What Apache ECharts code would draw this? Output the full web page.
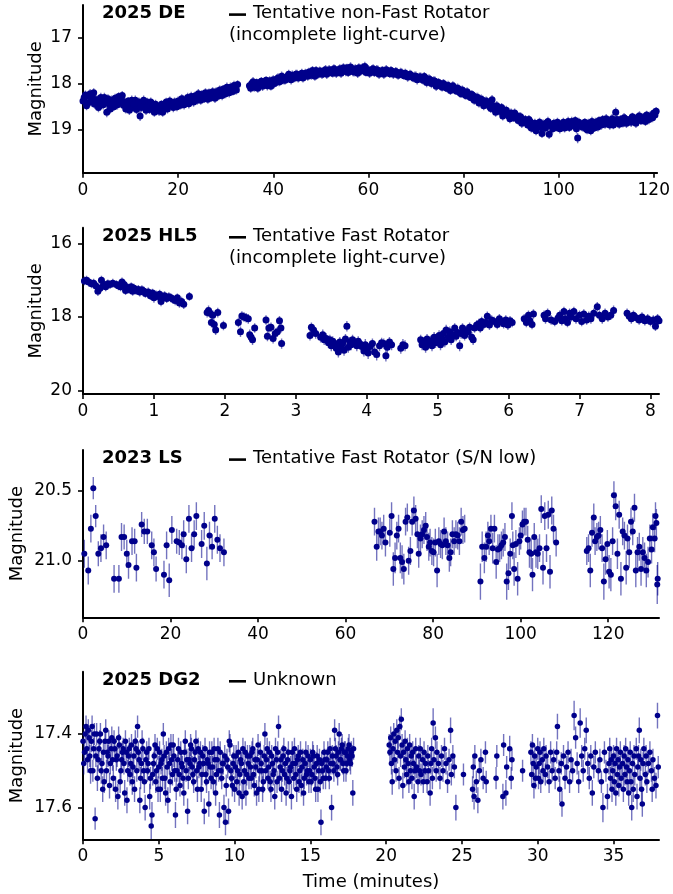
<!DOCTYPE html>
<html><head><meta charset="utf-8">
<script src="https://cdn.jsdelivr.net/npm/echarts@6/dist/echarts.min.js"></script>
<style>html,body{margin:0;padding:0;background:#fff}#c{width:673px;height:894px}</style>
</head><body><div id="c"></div>
<script>
// ---- DATA: [time (min), magnitude, error] ----
const lc2025DE = [
[0,18.38,.09],[0.5,18.25,.1],[1,18.42,.09],[1.5,18.22,.1],[2,18.30,.09],[2.5,18.45,.1],[3,18.35,.09],[3.5,18.48,.1],[4,18.38,.09],[4.5,18.30,.1],
[5,18.62,.11],[5.5,18.45,.09],[6,18.36,.1],[6.5,18.50,.09],[7,18.40,.1],[7.5,18.28,.09],[8,18.35,.1],[8.5,18.47,.09],[9,18.55,.1],[9.5,18.38,.09],
[10,18.44,.1],[10.5,18.52,.09],[11,18.36,.1],[11.5,18.48,.09],[12,18.70,.11],[12.5,18.42,.09],[13,18.50,.1],[13.5,18.40,.09],[14,18.56,.1],[14.5,18.44,.09],
[15,18.62,.1],[15.5,18.50,.09],[16,18.60,.1],[16.5,18.45,.09],[17,18.55,.1],[17.5,18.40,.09],[18,18.48,.1],[18.5,18.42,.09],[19,18.52,.1],[19.5,18.45,.09],
[20,18.38,.1],[20.5,18.47,.09],[21,18.35,.1],[21.5,18.42,.09],[22,18.30,.1],[22.5,18.40,.09],[23,18.33,.1],[23.5,18.27,.09],[24,18.36,.1],[24.5,18.30,.09],
[25,18.24,.1],[25.5,18.33,.09],[26,18.28,.1],[26.5,18.20,.09],[27,18.30,.1],[27.5,18.24,.09],[28,18.18,.1],[28.5,18.27,.09],[29,18.20,.1],[29.5,18.12,.09],
[30,18.22,.1],[30.5,18.15,.09],[31,18.08,.1],[31.5,18.17,.09],[32,18.10,.1],[32.5,18.02,.09],
[35,18.05,.1],[35.5,18.00,.09],[36,18.08,.1],[36.5,17.98,.09],[37,18.04,.1],[37.5,17.95,.09],[38,18.02,.1],[38.5,17.93,.09],[39,18.00,.1],[39.5,18.06,.09],
[40,17.92,.1],[40.5,17.98,.09],[41,17.88,.1],[41.5,17.95,.09],[42,17.86,.1],[42.5,17.93,.09],[43,17.84,.1],[43.5,17.90,.09],[44,17.82,.1],[44.5,17.88,.09],
[45,17.80,.1],[45.5,17.86,.09],[46,17.78,.1],[46.5,17.84,.09],[47,17.80,.1],[47.5,17.75,.09],[48,17.82,.1],[48.5,17.76,.09],[49,17.72,.1],[49.5,17.80,.09],
[50,17.74,.1],[50.5,17.79,.09],[51,17.70,.1],[51.5,17.76,.09],[52,17.72,.1],[52.5,17.78,.09],[53,17.70,.1],[53.5,17.75,.09],[54,17.68,.1],[54.5,17.74,.09],
[55,17.70,.1],[55.5,17.66,.09],[56,17.72,.1],[56.5,17.68,.09],[57,17.75,.1],[57.5,17.70,.09],[58,17.66,.1],[58.5,17.73,.09],[59,17.69,.1],[59.5,17.76,.09],
[60,17.70,.1],[60.5,17.74,.09],[61,17.68,.1],[61.5,17.75,.09],[62,17.71,.1],[62.5,17.77,.09],[63,17.72,.1],[63.5,17.76,.09],[64,17.73,.1],[64.5,17.79,.09],
[65,17.74,.1],[65.5,17.78,.09],[66,17.76,.1],[66.5,17.80,.09],[67,17.77,.1],[67.5,17.83,.09],[68,17.80,.1],[68.5,17.85,.09],[69,17.82,.1],[69.5,17.88,.09],
[70,17.84,.1],[70.5,17.90,.09],[71,17.86,.1],[71.5,17.93,.09],[72,17.88,.1],[72.5,17.95,.09],[73,17.92,.1],[73.5,17.98,.09],[74,17.95,.1],[74.5,18.04,.09],
[75,18.00,.1],[75.5,18.08,.09],[76,18.02,.1],[76.5,18.10,.09],[77,18.06,.1],[77.5,18.12,.09],[78,18.08,.1],[78.5,18.16,.09],[79,18.12,.1],[79.5,18.22,.09],
[80,18.18,.1],[80.5,18.26,.09],[81,18.22,.1],[81.5,18.30,.09],[82,18.26,.1],[82.5,18.35,.09],[83,18.30,.1],[83.5,18.40,.09],[84,18.36,.1],[84.5,18.45,.09],
[85,18.40,.1],[85.5,18.50,.09],[86,18.35,.1],[86.5,18.55,.09],[87,18.48,.1],[87.5,18.60,.09],[88,18.52,.1],[88.5,18.65,.09],[89,18.58,.1],[89.5,18.70,.09],
[90,18.64,.1],[90.5,18.74,.09],[91,18.68,.1],[91.5,18.80,.09],[92,18.72,.1],[92.5,18.84,.09],[93,18.78,.1],[93.5,18.90,.09],[94,18.82,.1],[94.5,18.96,.09],
[95,18.86,.1],[95.5,18.92,.09],[96,18.84,.1],[96.5,19.08,.1],[97,18.90,.1],[97.5,18.85,.09],[98,19.10,.1],[98.5,18.92,.09],[99,18.86,.1],[99.5,18.95,.09],
[100,18.88,.1],[100.5,18.96,.09],[101,18.84,.1],[101.5,18.92,.09],[102,18.82,.1],[102.5,18.90,.09],[103,18.86,.1],[103.5,18.80,.09],[104,19.18,.11],[104.5,18.88,.09],
[105,18.94,.1],[105.5,18.84,.09],[106,19.00,.1],[106.5,18.90,.09],[107,18.82,.1],[107.5,18.96,.09],[108,18.86,.1],[108.5,18.80,.09],[109,18.90,.1],[109.5,18.82,.09],
[110,18.76,.1],[110.5,18.86,.09],[111,18.80,.1],[111.5,18.90,.09],[112,18.62,.1],[112.5,18.84,.09],[113,18.78,.1],[113.5,18.86,.09],[114,18.76,.1],[114.5,18.84,.09],
[115,18.78,.1],[115.5,18.72,.09],[116,18.82,.1],[116.5,18.76,.09],[117,18.70,.1],[117.5,18.80,.09],[118,18.74,.1],[118.5,18.68,.09],[119,18.78,.1],[119.5,18.70,.09],
[120,18.64,.1],[120.5,18.60,.09],
[0.25,18.30,.1],[0.75,18.48,.1],[1.25,18.28,.1],[1.75,18.40,.1],[2.25,18.20,.1],[2.75,18.36,.1],[3.25,18.52,.1],[3.75,18.30,.1],[4.25,18.46,.1],[4.75,18.40,.1],
[5.25,18.33,.1],[5.75,18.55,.1],[6.25,18.44,.1],[6.75,18.32,.1],[7.25,18.46,.1],[7.75,18.38,.1],[8.25,18.26,.1],[8.75,18.40,.1],[9.25,18.48,.1],[9.75,18.58,.1],
[10.25,18.36,.1],[10.75,18.45,.1],[11.25,18.56,.1],[11.75,18.40,.1],[12.25,18.52,.1],[12.75,18.36,.1],[13.25,18.58,.1],[13.75,18.46,.1],[14.25,18.40,.1],[14.75,18.52,.1],
[15.25,18.45,.1],[15.75,18.56,.1],[16.25,18.52,.1],[16.75,18.62,.1],[17.25,18.48,.1],[17.75,18.55,.1],[18.25,18.38,.1],[18.75,18.47,.1],[19.25,18.40,.1],[19.75,18.50,.1],
[20.25,18.44,.1],[20.75,18.33,.1],[21.25,18.46,.1],[21.75,18.38,.1],[22.25,18.44,.1],[22.75,18.28,.1],[23.25,18.40,.1],[23.75,18.34,.1],[24.25,18.22,.1],[24.75,18.36,.1],
[25.25,18.30,.1],[25.75,18.20,.1],[26.25,18.34,.1],[26.75,18.27,.1],[27.25,18.18,.1],[27.75,18.32,.1],[28.25,18.22,.1],[28.75,18.14,.1],[29.25,18.26,.1],[29.75,18.18,.1],
[30.25,18.08,.1],[30.75,18.20,.1],[31.25,18.13,.1],[31.75,18.04,.1],[32.25,18.14,.1],[35.25,18.10,.1],[35.75,17.96,.1],[36.25,18.04,.1],[36.75,18.10,.1],[37.25,17.98,.1],
[37.75,18.06,.1],[38.25,17.97,.1],[38.75,18.05,.1],[39.25,17.94,.1],[39.75,17.98,.1],[40.25,18.00,.1],[40.75,17.90,.1],[41.25,17.96,.1],[41.75,17.84,.1],[42.25,17.92,.1],
[42.75,17.88,.1],[43.25,17.80,.1],[43.75,17.92,.1],[44.25,17.86,.1],[44.75,17.80,.1],[45.25,17.88,.1],[45.75,17.82,.1],[46.25,17.88,.1],[46.75,17.78,.1],[47.25,17.84,.1],
[47.75,17.80,.1],[48.25,17.72,.1],[48.75,17.84,.1],[49.25,17.78,.1],[49.75,17.73,.1],[50.25,17.80,.1],[50.75,17.72,.1],[51.25,17.80,.1],[51.75,17.70,.1],[52.25,17.76,.1],
[52.75,17.68,.1],[53.25,17.78,.1],[53.75,17.72,.1],[54.25,17.78,.1],[54.75,17.66,.1],[55.25,17.74,.1],[55.75,17.76,.1],[56.25,17.64,.1],[56.75,17.74,.1],[57.25,17.68,.1],
[57.75,17.78,.1],[58.25,17.72,.1],[58.75,17.66,.1],[59.25,17.63,.1],[59.75,17.72,.1],[60.25,17.78,.1],[60.75,17.70,.1],[61.25,17.76,.1],[61.75,17.70,.1],[62.25,17.80,.1],
[62.75,17.73,.1],[63.25,17.80,.1],[63.75,17.70,.1],[64.25,17.76,.1],[64.75,17.72,.1],[65.25,17.80,.1],[65.75,17.74,.1],[66.25,17.82,.1],[66.75,17.76,.1],[67.25,17.80,.1],
[67.75,17.78,.1],[68.25,17.86,.1],[68.75,17.80,.1],[69.25,17.86,.1],[69.75,17.84,.1],[70.25,17.92,.1],[70.75,17.86,.1],[71.25,17.90,.1],[71.75,17.85,.1],[72.25,17.98,.1],
[72.75,17.90,.1],[73.25,18.00,.1],[73.75,17.94,.1],[74.25,18.06,.1],[74.75,17.98,.1],[75.25,18.04,.1],[75.75,18.00,.1],[76.25,18.08,.1],[76.75,18.04,.1],[77.25,18.15,.1],
[77.75,18.05,.1],[78.25,18.14,.1],[78.75,18.10,.1],[79.25,18.20,.1],[79.75,18.14,.1],[80.25,18.24,.1],[80.75,18.18,.1],[81.25,18.28,.1],[81.75,18.24,.1],[82.25,18.36,.1],
[82.75,18.30,.1],[83.25,18.42,.1],[83.75,18.34,.1],[84.25,18.48,.1],[84.75,18.38,.1],[85.25,18.45,.1],[85.75,18.54,.1],[86.25,18.48,.1],[86.75,18.62,.1],[87.25,18.52,.1],
[87.75,18.58,.1],[88.25,18.70,.1],[88.75,18.60,.1],[89.25,18.66,.1],[89.75,18.76,.1],[90.25,18.70,.1],[90.75,18.64,.1],[91.25,18.76,.1],[91.75,18.72,.1],[92.25,18.86,.1],
[92.75,18.80,.1],[93.25,18.85,.1],[93.75,18.78,.1],[94.25,18.96,.1],[94.75,18.90,.1],[95.25,19.02,.1],[95.75,18.86,.1],[96.25,18.95,.1],[96.75,18.88,.1],[97.25,18.96,.1],
[97.75,18.82,.1],[98.25,18.88,.1],[98.75,18.98,.1],[99.25,18.90,.1],[99.75,18.84,.1],[100.25,18.98,.1],[100.75,18.90,.1],[101.25,18.96,.1],[101.75,18.86,.1],[102.25,18.95,.1],
[102.75,18.82,.1],[103.25,18.92,.1],[103.75,18.98,.1],[104.25,18.84,.1],[104.75,18.92,.1],[105.25,18.88,.1],[105.75,18.98,.1],[106.25,18.86,.1],[106.75,19.02,.1],[107.25,18.90,.1],
[107.75,18.84,.1],[108.25,18.94,.1],[108.75,18.86,.1],[109.25,18.78,.1],[109.75,18.88,.1],[110.25,18.82,.1],[110.75,18.90,.1],[111.25,18.76,.1],[111.75,18.84,.1],[112.25,18.78,.1],
[112.75,18.88,.1],[113.25,18.82,.1],[113.75,18.74,.1],[114.25,18.86,.1],[114.75,18.80,.1],[115.25,18.84,.1],[115.75,18.76,.1],[116.25,18.86,.1],[116.75,18.72,.1],[117.25,18.80,.1],
[117.75,18.74,.1],[118.25,18.82,.1],[118.75,18.76,.1],[119.25,18.70,.1],[119.75,18.74,.1],[120.25,18.68,.1]
];
const lc2025HL5 = [
[0.02,17.02,.12],[0.05,17.00,.12],[0.08,17.05,.12],[0.12,17.10,.12],[0.15,17.08,.12],[0.18,17.15,.12],[0.21,17.30,.13],[0.24,17.22,.12],[0.26,17.00,.12],[0.29,17.12,.12],
[0.32,17.18,.12],[0.35,17.10,.12],[0.38,17.12,.12],[0.42,17.08,.12],[0.47,17.12,.12],[0.50,17.15,.12],[0.53,17.18,.12],[0.55,17.05,.12],[0.58,17.12,.12],[0.60,17.28,.12],
[0.63,17.20,.12],[0.65,17.25,.12],[0.68,17.18,.12],[0.70,17.30,.12],[0.72,17.22,.12],[0.75,17.28,.12],[0.78,17.25,.12],[0.80,17.32,.12],[0.83,17.26,.12],[0.86,17.30,.12],
[0.88,17.36,.12],[0.92,17.32,.12],[0.95,17.42,.12],[0.98,17.35,.12],[1.00,17.48,.13],[1.03,17.40,.12],[1.06,17.44,.12],[1.08,17.38,.12],[1.10,17.58,.13],[1.12,17.46,.12],
[1.15,17.42,.12],[1.18,17.50,.12],[1.21,17.45,.12],[1.24,17.48,.12],[1.27,17.52,.12],[1.30,17.55,.13],[1.33,17.48,.12],[1.36,17.62,.13],[1.39,17.58,.13],[1.42,17.65,.13],
[1.50,17.44,.12],
[1.75,17.88,.13],[1.77,17.82,.13],[1.79,17.90,.13],[1.81,18.15,.13],[1.83,17.95,.13],[1.85,18.20,.13],[1.87,18.35,.14],[1.90,17.88,.13],[1.98,18.23,.13],
[2.19,18.15,.13],[2.22,18.40,.14],[2.24,17.97,.13],[2.27,18.00,.13],[2.30,18.02,.13],[2.33,18.05,.13],[2.35,18.48,.14],[2.37,18.55,.14],[2.39,18.62,.14],[2.42,18.30,.13],
[2.58,18.08,.13],[2.60,18.52,.14],[2.62,18.30,.13],[2.65,18.28,.13],[2.68,18.58,.14],[2.71,18.45,.14],[2.74,18.40,.13],[2.77,18.10,.13],[2.79,18.30,.13],[2.80,18.72,.14],
[3.20,18.50,.14],[3.22,18.28,.13],[3.25,18.35,.14],[3.28,18.45,.14],[3.35,18.55,.14],[3.38,18.48,.14],[3.40,18.62,.14],[3.43,18.58,.14],[3.46,18.70,.14],[3.48,18.62,.14],
[3.50,18.78,.15],[3.52,18.66,.14],[3.55,18.72,.14],[3.57,18.85,.15],[3.60,18.95,.15],[3.62,18.68,.14],[3.64,18.80,.15],[3.66,18.72,.14],[3.68,18.90,.15],[3.70,18.60,.14],
[3.72,18.25,.14],[3.74,18.82,.15],[3.76,18.68,.14],[3.78,18.75,.15],[3.80,18.62,.14],[3.83,18.70,.14],[3.86,18.78,.15],[3.88,18.66,.14],[3.90,18.72,.14],[3.93,18.80,.15],
[3.96,18.92,.15],[3.98,18.75,.15],[4.00,18.85,.15],[4.02,18.98,.16],[4.05,18.80,.15],[4.08,18.72,.14],[4.11,18.95,.15],[4.14,19.02,.16],[4.18,18.78,.15],[4.21,18.70,.14],
[4.24,18.72,.14],[4.27,19.05,.16],[4.29,18.82,.15],[4.32,18.68,.14],[4.35,18.75,.15],[4.48,18.85,.15],[4.51,18.75,.15],[4.54,18.78,.15],
[4.76,18.62,.14],[4.78,18.75,.15],[4.80,18.68,.14],[4.83,18.82,.15],[4.85,18.60,.14],[4.87,18.72,.14],[4.90,18.65,.14],[4.92,18.78,.15],[4.95,18.55,.14],[4.97,18.70,.14],
[5.00,18.62,.14],[5.02,18.50,.14],[5.04,18.75,.15],[5.06,18.58,.14],[5.08,18.45,.14],[5.10,18.68,.14],[5.12,18.35,.14],[5.15,18.55,.14],[5.17,18.40,.14],[5.19,18.62,.14],
[5.22,18.48,.14],[5.24,18.30,.13],[5.26,18.52,.14],[5.28,18.42,.14],[5.31,18.78,.15],[5.33,18.45,.14],[5.35,18.30,.13],[5.38,18.50,.14],[5.40,18.38,.14],[5.43,18.40,.14],
[5.45,18.28,.13],[5.48,18.55,.14],[5.50,18.62,.14],[5.52,18.30,.13],[5.55,18.22,.13],[5.58,18.18,.13],[5.60,18.30,.13],[5.62,18.12,.13],[5.65,18.20,.13],[5.68,18.15,.13],
[5.70,17.98,.13],[5.73,18.22,.13],[5.76,18.08,.13],[5.80,18.12,.13],[5.84,18.20,.13],[5.87,18.05,.13],[5.90,18.12,.13],[5.93,18.18,.13],[5.96,18.08,.13],[5.99,18.22,.13],
[6.02,18.10,.13],[6.05,18.15,.13],
[6.22,18.05,.13],[6.25,18.15,.13],[6.28,17.95,.13],[6.30,18.10,.13],[6.33,18.20,.13],[6.35,17.92,.13],[6.50,17.95,.13],[6.52,18.05,.13],[6.55,17.90,.13],[6.60,18.08,.13],
[6.65,18.12,.13],[6.70,18.02,.13],[6.72,17.95,.13],[6.75,18.10,.13],[6.78,17.85,.13],[6.80,18.05,.13],[6.83,18.15,.13],[6.86,17.90,.13],[6.88,18.00,.13],[6.92,17.85,.13],
[6.95,18.05,.13],[7.00,17.95,.13],[7.03,18.12,.13],[7.06,17.92,.13],[7.10,18.08,.13],[7.13,17.98,.13],[7.16,18.05,.13],[7.20,17.90,.13],[7.25,17.72,.13],[7.28,17.95,.13],
[7.32,18.05,.13],[7.36,17.90,.13],[7.40,18.00,.13],[7.44,17.95,.13],[7.48,17.82,.13],[7.67,17.90,.13],[7.70,17.98,.13],[7.73,18.05,.13],[7.76,17.95,.13],[7.80,18.02,.13],
[7.84,18.08,.13],[7.88,18.00,.13],[7.92,18.10,.13],[7.96,18.05,.13],[8.00,18.12,.13],[8.04,18.08,.13],[8.07,18.25,.13],[8.10,18.05,.13],[8.12,18.10,.13]
];
const lc2023LS = [
[0.3,20.95,.1],[1.2,21.07,.1],[1.8,20.77,.1],[2.35,20.48,.08],[2.9,20.68,.08],[3.5,20.95,.09],[4.1,20.91,.1],[4.7,20.83,.09],[5.3,20.89,.1],[7.1,21.13,.1],
[8.2,21.13,.1],[8.8,20.83,.1],[9.4,20.83,.09],[10.0,20.95,.1],[10.4,21.03,.1],[11.2,20.86,.1],[11.8,20.86,.09],[12.2,21.05,.1],[13.4,20.74,.09],[14.0,20.79,.09],
[14.7,20.79,.09],[15.7,20.89,.1],[16.2,20.94,.1],[16.7,21.06,.09],[18.5,21.1,.1],[19.1,20.89,.1],[19.7,21.14,.12],[20.3,20.78,.1],[21.4,20.86,.09],[22.0,20.87,.09],
[22.6,20.89,.1],[23.0,20.81,.1],[23.6,20.99,.1],[24.2,20.7,.1],[24.8,20.91,.1],[25.4,20.81,.1],[25.9,20.68,.1],[27.1,20.88,.1],[27.7,20.75,.1],[28.3,21.02,.12],
[28.9,20.82,.1],[29.5,20.9,.09],[30.1,20.7,.1],[30.7,20.85,.1],[31.3,20.91,.1],[32.2,20.94,.1],
[66.6,20.72,.1],[67.1,20.9,.1],[67.5,20.79,.1],[67.9,20.79,.1],[68.3,20.82,.1],[68.7,20.77,.1],[69.1,20.87,.1],[70.1,20.8,.1],[70.5,20.68,.1],[70.9,21.06,.12],
[71.3,20.98,.11],[71.7,20.82,.1],[72.1,20.77,.1],[72.5,20.98,.11],[72.9,21.01,.12],[73.3,21.06,.11],[73.7,20.72,.1],[74.1,20.69,.1],[74.4,21.0,.1],[74.8,20.93,.1],
[75.2,20.72,.1],[75.6,20.64,.1],[76.0,20.7,.1],[76.4,20.81,.1],[76.7,20.95,.1],[77.1,20.84,.1],[77.5,20.81,.1],[77.9,20.78,.1],[78.3,20.75,.1],[78.6,20.83,.1],
[79.0,20.9,.1],[79.3,20.87,.1],[79.7,20.93,.1],[80.1,20.94,.1],[80.5,20.87,.1],[80.9,21.07,.12],[81.3,20.86,.1],[81.7,20.88,.1],[82.1,20.89,.1],[82.5,20.79,.1],
[82.9,20.86,.1],[83.3,20.89,.1],[83.7,20.98,.1],[84.0,20.94,.1],[84.4,20.81,.1],[84.8,20.86,.1],[85.2,20.81,.1],[85.6,20.82,.1],[86.0,20.86,.1],[86.4,20.72,.1],
[86.8,20.78,.1],[87.2,20.77,.1],
[90.8,21.15,.13],[91.2,20.9,.11],[91.7,20.98,.11],[92.1,20.9,.11],[92.5,20.82,.1],[92.8,20.86,.1],[93.2,20.77,.1],[93.6,20.91,.11],[94.0,20.77,.1],[94.4,21.01,.12],
[94.8,20.92,.11],[95.2,20.91,.1],[95.6,20.89,.1],[96.0,20.87,.1],[96.4,20.83,.1],[96.8,21.15,.13],[97.2,21.09,.12],[97.6,20.95,.11],[98.0,20.68,.1],[98.2,20.89,.1],
[98.5,21.06,.12],[98.9,20.88,.1],[99.3,21.13,.12],[99.7,20.86,.1],[100.0,20.82,.1],[100.4,20.74,.1],[100.8,20.72,.1],[101.2,20.72,.1],[101.6,20.85,.1],[102.0,20.94,.11],
[102.4,20.95,.11],[102.7,21.1,.12],[103.1,20.83,.1],[103.5,20.94,.11],[103.9,20.95,.11],[104.3,20.91,.1],[104.7,20.63,.1],[105.1,21.05,.12],[105.5,20.68,.1],[105.9,20.91,.1],
[106.3,20.67,.1],[106.7,21.08,.12],[107.1,20.64,.1],[107.5,20.77,.1],[108.1,20.87,.1],
[115.1,20.93,.1],[115.5,20.91,.1],[115.9,21.07,.12],[116.3,20.8,.1],[116.7,20.69,.1],[117.0,20.86,.1],[117.4,20.83,.1],[117.8,20.82,.1],[118.2,20.78,.1],[118.6,20.91,.1],
[119.0,21.15,.13],[119.4,20.99,.11],[119.8,20.88,.1],[120.2,21.08,.12],[120.6,21.1,.12],[121.0,20.86,.1],[121.3,20.53,.1],[121.7,20.61,.1],[122.1,20.95,.11],[122.5,20.67,.1],
[122.9,21.13,.12],[123.3,20.79,.1],[123.7,20.82,.1],[124.1,21.05,.12],[124.4,20.84,.1],[124.8,20.94,.11],[125.2,20.72,.1],[125.6,20.79,.1],[126.0,20.62,.1],[126.3,21.07,.12],
[126.7,20.94,.11],[127.1,20.9,.1],[127.5,21.06,.12],[127.9,20.94,.11],[128.3,20.98,.11],[128.7,21.07,.12],[129.1,21.01,.11],[129.5,20.84,.1],[129.9,20.92,.1],[130.2,20.76,.1],
[130.6,20.84,.1],[130.8,20.68,.1],[131.0,20.73,.1],[131.2,21.17,.14],[131.3,21.13,.12]
];
const lc2025DG2 = [
[0.0,17.42,.03],[0.05,17.48,.03],[0.1,17.45,.03],[0.15,17.40,.025],[0.2,17.38,.03],[0.25,17.44,.03],[0.3,17.47,.035],[0.35,17.39,.03],[0.4,17.41,.03],[0.45,17.46,.03],
[0.5,17.50,.035],[0.55,17.42,.03],[0.6,17.38,.03],[0.65,17.50,.03],[0.7,17.44,.03],[0.75,17.40,.03],[0.8,17.63,.03],[0.85,17.46,.03],[0.9,17.40,.03],[0.95,17.52,.035],
[1.0,17.47,.03],[1.05,17.44,.03],[1.1,17.42,.03],[1.15,17.40,.03],[1.2,17.50,.035],[1.25,17.48,.03],[1.3,17.55,.035],[1.35,17.45,.03],[1.4,17.53,.03],[1.45,17.42,.03],
[1.5,17.39,.03],[1.55,17.50,.03],[1.6,17.45,.03],[1.65,17.46,.03],[1.7,17.42,.03],[1.75,17.54,.035],[1.8,17.48,.03],[1.85,17.44,.03],[1.9,17.41,.03],[1.95,17.47,.03],
[2.0,17.52,.035],[2.05,17.42,.03],[2.1,17.44,.03],[2.15,17.55,.035],[2.2,17.47,.03],[2.25,17.46,.03],[2.3,17.57,.035],[2.35,17.41,.03],[2.4,17.43,.03],[2.45,17.53,.03],
[2.5,17.50,.03],[2.55,17.47,.03],[2.6,17.45,.03],[2.65,17.44,.03],[2.7,17.48,.03],[2.75,17.56,.035],[2.8,17.42,.03],[2.85,17.45,.03],[2.9,17.58,.035],[2.95,17.50,.03],
[3.0,17.46,.03],[3.05,17.44,.03],[3.1,17.51,.03],[3.15,17.48,.03],[3.2,17.43,.03],[3.25,17.53,.035],[3.3,17.49,.03],[3.35,17.46,.03],[3.4,17.55,.035],[3.45,17.42,.03],
[3.5,17.44,.03],[3.55,17.50,.03],[3.6,17.38,.03],[3.65,17.45,.03],[3.7,17.47,.03],[3.75,17.58,.035],[3.8,17.52,.03],[3.85,17.48,.03],[3.9,17.42,.03],[3.95,17.44,.03],
[4.0,17.50,.03],[4.05,17.53,.03],[4.1,17.60,.035],[4.15,17.47,.03],[4.2,17.45,.03],[4.25,17.50,.03],[4.3,17.48,.03],[4.35,17.44,.03],[4.4,17.57,.035],[4.45,17.52,.03],
[4.5,17.65,.035],[4.55,17.62,.035],[4.6,17.51,.03],[4.65,17.48,.03],[4.7,17.46,.03],[4.75,17.43,.03],[4.8,17.53,.03],[4.85,17.50,.03],[4.9,17.44,.03],[4.95,17.55,.035],
[5.0,17.49,.03],[5.05,17.45,.03],[5.1,17.55,.035],[5.15,17.48,.03],[5.2,17.47,.03],[5.25,17.52,.03],[5.3,17.40,.03],[5.35,17.46,.03],[5.4,17.52,.03],[5.45,17.56,.035],
[5.5,17.45,.03],[5.55,17.49,.03],[5.6,17.58,.035],[5.65,17.44,.03],[5.7,17.48,.03],[5.75,17.53,.03],[5.8,17.43,.03],[5.85,17.47,.03],[5.9,17.51,.03],[5.95,17.43,.03],
[6.0,17.46,.03],[6.05,17.50,.03],[6.1,17.62,.035],[6.15,17.55,.03],[6.2,17.50,.03],[6.25,17.47,.03],[6.3,17.44,.03],[6.35,17.51,.03],[6.4,17.54,.03],[6.45,17.45,.03],
[6.5,17.48,.03],[6.55,17.49,.03],[6.6,17.52,.03],[6.65,17.56,.035],[6.7,17.45,.03],[6.75,17.42,.03],[6.8,17.50,.03],[6.85,17.47,.03],[6.9,17.61,.035],[6.95,17.52,.03],
[7.0,17.47,.03],[7.05,17.48,.03],[7.1,17.43,.03],[7.15,17.44,.03],[7.2,17.49,.03],[7.25,17.51,.03],[7.3,17.53,.03],[7.35,17.47,.03],[7.4,17.45,.03],[7.45,17.42,.03],
[7.5,17.50,.03],[7.55,17.55,.035],[7.6,17.44,.03],[7.65,17.49,.03],[7.7,17.48,.03],[7.75,17.45,.03],[7.8,17.55,.035],[7.85,17.51,.03],[7.9,17.46,.03],[7.95,17.48,.03],
[8.0,17.61,.035],[8.05,17.44,.03],[8.1,17.51,.03],[8.15,17.53,.03],[8.2,17.47,.03],[8.25,17.48,.03],[8.3,17.59,.035],[8.35,17.45,.03],[8.4,17.49,.03],[8.45,17.52,.03],
[8.5,17.45,.03],[8.55,17.49,.03],[8.6,17.53,.03],[8.65,17.44,.03],[8.7,17.47,.03],[8.75,17.56,.035],[8.8,17.51,.03],[8.85,17.47,.03],[8.9,17.44,.03],[8.95,17.50,.03],
[9.0,17.62,.035],[9.05,17.45,.03],[9.1,17.50,.03],[9.15,17.52,.03],[9.2,17.48,.03],[9.25,17.48,.03],[9.3,17.60,.035],[9.35,17.46,.03],[9.4,17.64,.035],[9.45,17.54,.03],
[9.5,17.47,.03],[9.55,17.49,.03],[9.6,17.61,.035],[9.65,17.42,.03],[9.7,17.43,.03],[9.75,17.50,.03],[9.8,17.52,.03],[9.85,17.54,.03],[9.9,17.48,.03],[9.95,17.46,.03],
[10.0,17.55,.035],[10.05,17.49,.03],[10.1,17.46,.03],[10.15,17.53,.03],[10.2,17.50,.03],[10.25,17.45,.03],[10.3,17.56,.035],[10.35,17.51,.03],[10.4,17.47,.03],[10.45,17.48,.03],
[10.5,17.57,.035],[10.55,17.44,.03],[10.6,17.53,.03],[10.65,17.50,.03],[10.7,17.45,.03],[10.75,17.56,.035],[10.8,17.51,.03],[10.85,17.46,.03],[10.9,17.48,.03],[10.95,17.52,.03],
[11.0,17.46,.03],[11.05,17.49,.03],[11.1,17.52,.03],[11.15,17.45,.03],[11.2,17.44,.03],[11.25,17.51,.03],[11.3,17.54,.03],[11.35,17.47,.03],[11.4,17.49,.03],[11.45,17.56,.035],
[11.5,17.47,.03],[11.55,17.43,.03],[11.6,17.55,.035],[11.65,17.50,.03],[11.7,17.45,.03],[11.75,17.48,.03],[11.8,17.50,.03],[11.85,17.55,.035],[11.9,17.53,.03],[11.95,17.46,.03],
[12.0,17.40,.03],[12.05,17.50,.03],[12.1,17.47,.03],[12.15,17.44,.03],[12.2,17.52,.03],[12.25,17.49,.03],[12.3,17.45,.03],[12.35,17.53,.03],[12.4,17.55,.035],[12.45,17.46,.03],
[12.5,17.48,.03],[12.55,17.51,.03],[12.6,17.50,.03],[12.65,17.57,.035],[12.7,17.44,.03],[12.75,17.47,.03],[12.8,17.53,.03],[12.85,17.45,.03],[12.9,17.38,.03],[12.95,17.52,.03],
[13.0,17.49,.03],[13.05,17.47,.03],[13.1,17.55,.035],[13.15,17.50,.03],[13.2,17.46,.03],[13.25,17.44,.03],[13.3,17.51,.03],[13.35,17.48,.03],[13.4,17.56,.035],[13.45,17.52,.03],
[13.5,17.47,.03],[13.55,17.45,.03],[13.6,17.53,.03],[13.65,17.50,.03],[13.7,17.49,.03],[13.75,17.57,.035],[13.8,17.45,.03],[13.85,17.48,.03],[13.9,17.52,.03],[13.95,17.44,.03],
[14.0,17.48,.03],[14.05,17.51,.03],[14.1,17.55,.035],[14.15,17.47,.03],[14.2,17.46,.03],[14.25,17.53,.03],[14.3,17.50,.03],[14.35,17.45,.03],[14.4,17.54,.03],[14.45,17.49,.03],
[14.5,17.47,.03],[14.55,17.56,.035],[14.6,17.52,.03],[14.65,17.48,.03],[14.7,17.45,.03],[14.75,17.51,.03],[14.8,17.50,.03],[14.85,17.46,.03],[14.9,17.53,.03],[14.95,17.50,.03],
[15.0,17.47,.03],[15.05,17.53,.03],[15.1,17.51,.03],[15.15,17.45,.03],[15.2,17.46,.03],[15.25,17.49,.03],[15.3,17.52,.03],[15.35,17.55,.035],[15.4,17.48,.03],[15.45,17.46,.03],
[15.5,17.55,.035],[15.55,17.50,.03],[15.6,17.47,.03],[15.65,17.53,.03],[15.7,17.64,.035],[15.75,17.48,.03],[15.8,17.50,.03],[15.85,17.52,.03],[15.9,17.45,.03],[15.95,17.47,.03],
[16.0,17.52,.03],[16.05,17.49,.03],[16.1,17.47,.03],[16.15,17.45,.03],[16.2,17.50,.03],[16.25,17.52,.03],[16.3,17.44,.03],[16.35,17.48,.03],[16.4,17.60,.035],[16.45,17.46,.03],
[16.5,17.48,.03],[16.55,17.50,.03],[16.6,17.39,.03],[16.65,17.44,.03],[16.7,17.46,.03],[16.75,17.49,.03],[16.8,17.51,.03],[16.85,17.45,.03],[16.9,17.40,.03],[16.95,17.47,.03],
[17.0,17.47,.03],[17.05,17.44,.03],[17.1,17.43,.03],[17.15,17.48,.03],[17.2,17.50,.03],[17.25,17.45,.03],[17.3,17.45,.03],[17.35,17.50,.03],[17.4,17.48,.03],[17.45,17.46,.03],
[17.5,17.44,.03],[17.55,17.43,.03],[17.6,17.47,.03],[17.65,17.48,.03],[17.7,17.45,.03],[17.75,17.46,.03],[17.8,17.56,.035],[17.85,17.44,.03],
[20.20,17.43,.03],[20.25,17.45,.03],[20.30,17.41,.03],[20.35,17.48,.03],[20.40,17.53,.035],[20.45,17.44,.03],[20.50,17.40,.03],[20.55,17.47,.03],[20.60,17.42,.03],[20.65,17.50,.03],
[20.70,17.39,.03],[20.75,17.45,.03],[20.80,17.41,.03],[20.85,17.52,.03],[20.90,17.38,.03],[20.95,17.46,.03],[21.00,17.36,.03],[21.05,17.43,.03],[21.10,17.54,.035],[21.15,17.45,.03],
[21.20,17.49,.03],[21.25,17.42,.03],[21.30,17.47,.03],[21.35,17.51,.03],[21.40,17.44,.03],[21.45,17.48,.03],[21.50,17.53,.03],[21.55,17.43,.03],[21.60,17.50,.03],[21.65,17.46,.03],
[21.70,17.52,.03],[21.75,17.45,.03],[21.80,17.48,.03],[21.85,17.57,.035],[21.90,17.50,.03],[21.95,17.44,.03],[22.00,17.49,.03],[22.10,17.53,.03],[22.15,17.46,.03],[22.20,17.50,.03],
[22.25,17.44,.03],[22.30,17.51,.03],[22.40,17.47,.03],[22.45,17.53,.03],[22.50,17.45,.03],[22.55,17.50,.03],[22.60,17.48,.03],[22.70,17.53,.03],[22.75,17.46,.03],[22.80,17.50,.03],
[22.90,17.56,.035],[22.95,17.48,.03],[23.00,17.44,.03],[23.05,17.52,.03],[23.10,17.37,.04],[23.15,17.47,.03],[23.25,17.41,.03],[23.30,17.50,.03],[23.35,17.45,.03],[23.45,17.48,.03],
[23.55,17.52,.03],[23.65,17.46,.03],[23.75,17.50,.03],[23.85,17.44,.03],[23.95,17.48,.03],[24.05,17.53,.03],[24.15,17.47,.03],[24.25,17.39,.035],[24.30,17.51,.03],[24.40,17.46,.03],
[24.50,17.49,.03],[24.60,17.60,.035],[25.10,17.51,.03],[25.70,17.55,.035],[25.75,17.49,.03],[25.80,17.57,.035],[25.85,17.46,.03],[25.95,17.53,.03],[26.05,17.58,.035],[26.15,17.50,.03],
[26.25,17.47,.03],[26.40,17.52,.03],[26.55,17.45,.03],[26.60,17.53,.03],[27.25,17.52,.03],[27.30,17.46,.03],[27.70,17.57,.035],[27.75,17.43,.03],[27.90,17.56,.035],[27.95,17.49,.03],
[28.15,17.44,.035],[28.25,17.52,.03],[28.30,17.47,.03],[29.00,17.50,.03],[29.55,17.45,.03],[29.60,17.51,.03],[29.65,17.43,.03],[29.70,17.48,.03],[29.75,17.54,.035],[29.80,17.46,.03],
[29.85,17.52,.03],[29.90,17.49,.03],[30.00,17.44,.03],[30.05,17.52,.03],[30.10,17.48,.03],[30.15,17.45,.03],[30.20,17.53,.03],[30.30,17.47,.03],[30.35,17.50,.03],[30.40,17.44,.03],
[30.50,17.51,.03],[30.55,17.46,.03],[30.65,17.49,.03],[30.75,17.53,.03],[30.85,17.45,.03],[30.95,17.50,.03],[31.05,17.47,.03],[31.15,17.52,.03],[31.25,17.45,.03],[31.30,17.38,.035],
[31.40,17.50,.03],[31.45,17.55,.035],[31.55,17.48,.03],[31.60,17.59,.035],[31.70,17.46,.03],[31.80,17.52,.03],[31.90,17.49,.03],[32.00,17.45,.03],[32.10,17.53,.03],[32.20,17.47,.03],
[32.30,17.50,.03],[32.40,17.35,.04],[32.50,17.41,.03],[32.60,17.48,.03],[32.70,17.53,.03],[32.80,17.37,.04],[32.90,17.46,.03],[33.00,17.50,.03],[33.10,17.44,.03],[33.20,17.39,.035],
[33.30,17.48,.03],[33.40,17.52,.03],[33.50,17.46,.03],[33.60,17.56,.035],[33.70,17.49,.03],[33.80,17.45,.03],[34.00,17.50,.03],[34.10,17.47,.03],[34.20,17.53,.03],[34.30,17.60,.04],
[34.40,17.45,.03],[34.50,17.50,.03],[34.60,17.57,.035],[34.70,17.48,.03],[34.75,17.44,.03],[34.80,17.52,.03],[34.85,17.47,.03],[34.90,17.55,.035],[34.95,17.50,.03],[35.00,17.46,.03],
[35.05,17.53,.03],[35.10,17.48,.03],[35.15,17.56,.035],[35.20,17.44,.03],[35.25,17.51,.03],[35.30,17.47,.03],[35.35,17.54,.03],[35.40,17.49,.03],[35.45,17.45,.03],[35.50,17.52,.03],
[35.60,17.48,.03],[35.65,17.55,.035],[35.70,17.46,.03],[35.75,17.51,.03],[35.80,17.44,.03],[35.85,17.49,.03],[35.90,17.53,.03],[35.95,17.47,.03],[36.00,17.56,.035],[36.05,17.50,.03],
[36.10,17.45,.03],[36.15,17.53,.03],[36.20,17.60,.035],[36.25,17.48,.03],[36.30,17.55,.035],[36.35,17.46,.03],[36.40,17.51,.03],[36.50,17.44,.03],[36.55,17.57,.035],[36.60,17.49,.03],
[36.65,17.46,.03],[36.70,17.39,.035],[36.75,17.52,.03],[36.80,17.47,.03],[36.85,17.55,.035],[36.90,17.59,.035],[36.95,17.48,.03],[37.00,17.44,.03],[37.10,17.51,.03],[37.15,17.46,.03],
[37.20,17.53,.03],[37.30,17.48,.03],[37.40,17.45,.03],[37.50,17.50,.03],[37.55,17.55,.035],[37.60,17.47,.03],[37.70,17.52,.03],[37.80,17.54,.035],[37.90,17.35,.035],[37.95,17.49,.03]
];
// tick labels
const ticksX_DE = [0,20,40,60,80,100,120];
const ticksY_DE = [17,18,19];
const ticksX_HL5 = [0,1,2,3,4,5,6,7,8];
const ticksY_HL5 = [16,18,20];
const ticksX_LS = [0,20,40,60,80,100,120];
const ticksY_LS = [20.5,21.0];
const ticksX_DG2 = [0,5,10,15,20,25,30,35];
const ticksY_DG2 = [17.4,17.6];
const names = ['2025 DE','2025 HL5','2023 LS','2025 DG2'];
const notes = [
  ['Tentative non-Fast Rotator','(incomplete light-curve)'],
  ['Tentative Fast Rotator','(incomplete light-curve)'],
  ['Tentative Fast Rotator (S/N low)'],
  ['Unknown']
];
const xLabel = 'Time (minutes)';
const yLabel = 'Magnitude';

// ---- layout / style ----
const FONT = 'DejaVu Sans';
const MK = '#00008b';
const panels = [
  {data:lc2025DE, tx:ticksX_DE, ty:ticksY_DE, xmax:120.7, ymin:16.30, ymax:19.93, top:5, h:167.7, dec:0, sym:7, ylx:36.8},
  {data:lc2025HL5, tx:ticksX_HL5, ty:ticksY_HL5, xmax:8.12, ymin:15.575, ymax:20.09, top:227.7, h:166.3, dec:0, sym:7, ylx:36.8},
  {data:lc2023LS, tx:ticksX_LS, ty:ticksY_LS, xmax:131.6, ymin:20.206, ymax:21.406, top:450, h:167.3, dec:1, sym:6, ylx:17.3},
  {data:lc2025DG2, tx:ticksX_DG2, ty:ticksY_DG2, xmax:38.0, ymin:17.231, ymax:17.686, top:671.7, h:167.6, dec:1, sym:5.5, ylx:17.3}
];
const L = 83, W = 576;
const grid=[], xAxis=[], yAxis=[], series=[], graphic=[];
panels.forEach((p,i)=>{
  grid.push({left:L, top:p.top, width:W, height:p.h, containLabel:false});
  xAxis.push({type:'value', gridIndex:i, min:0, max:p.xmax, splitLine:{show:false},
    axisLine:{show:true, onZero:false, lineStyle:{color:'#000', width:2}},
    axisTick:{show:true, customValues:p.tx, length:5, lineStyle:{color:'#000', width:1.6}},
    axisLabel:{show:true, customValues:p.tx, fontFamily:FONT, fontSize:17, color:'#000', margin:9},
    name: i===3 ? xLabel : '', nameLocation:'middle', nameGap:34,
    nameTextStyle:{fontFamily:FONT, fontSize:18, color:'#000'}});
  yAxis.push({type:'value', gridIndex:i, inverse:true, min:p.ymin, max:p.ymax, splitLine:{show:false},
    axisLine:{show:true, onZero:false, lineStyle:{color:'#000', width:2}},
    axisTick:{show:true, customValues:p.ty, length:5, lineStyle:{color:'#000', width:1.6}},
    axisLabel:{show:true, customValues:p.ty, fontFamily:FONT, fontSize:17, color:'#000', margin:11,
      formatter:(v)=>Number(v).toFixed(p.dec)}});
  series.push({type:'custom', xAxisIndex:i, yAxisIndex:i, data:p.data, clip:true, silent:true,
    encode:{x:0,y:1},
    renderItem:(params, api)=>{
      const x=api.value(0), y=api.value(1), e=api.value(2);
      const a=api.coord([x,y-e]), b=api.coord([x,y+e]);
      return {type:'line', shape:{x1:a[0],y1:a[1],x2:b[0],y2:b[1]},
        style:{stroke:'rgba(0,0,139,0.55)', lineWidth:1.4}};
    }});
  series.push({type:'scatter', xAxisIndex:i, yAxisIndex:i, data:p.data.map(d=>[d[0],d[1]]),
    symbol:'circle', symbolSize:p.sym, itemStyle:{color:MK, opacity:1}, clip:true, silent:true});
  const cy = p.top + 8.8;
  graphic.push({type:'text', x:102, y:cy, style:{text:names[i], x:0, y:0, fill:'#000',
    font:'bold 18px "'+FONT+'"', align:'left', verticalAlign:'middle'}});
  graphic.push({type:'line', shape:{x1:229, y1:cy+0.8, x2:246, y2:cy+0.8}, style:{stroke:'#000', lineWidth:2.6}});
  notes[i].forEach((t,k)=>{
    graphic.push({type:'text', x: k===0 ? 253 : 229, y: cy + k*21.5, style:{text:t, x:0, y:0, fill:'#000',
      font:'18px "'+FONT+'"', align:'left', verticalAlign:'middle'}});
  });
  graphic.push({type:'text', x:p.ylx, y:p.top + p.h/2, rotation:Math.PI/2, style:{text:yLabel, x:0, y:0,
    fill:'#000', font:'18px "'+FONT+'"', align:'center', verticalAlign:'middle'}});
});
const chart = echarts.init(document.getElementById('c'), null, {renderer:'canvas'});
chart.setOption({animation:false, backgroundColor:'#fff', grid, xAxis, yAxis, series, graphic});
</script>
</body></html>
